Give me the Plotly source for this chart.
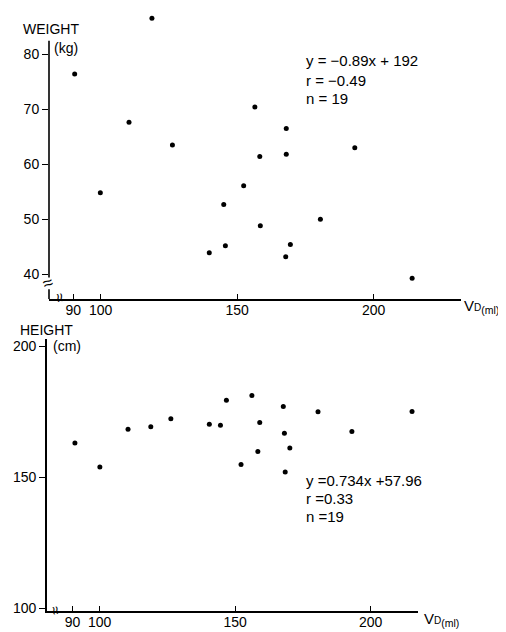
import plotly.graph_objects as go

# ---- data ----
vd_w = [118.8, 90.5, 110.4, 99.9, 126.3, 156.5, 158.3, 152.4, 145.1, 145.7,
        139.8, 158.5, 168.0, 168.0, 193.1, 180.5, 169.5, 167.8, 214.1]
weight = [86.5, 76.4, 67.6, 54.8, 63.5, 70.4, 61.4, 56.1, 52.7, 45.2,
          43.9, 48.8, 66.5, 61.8, 63.0, 50.0, 45.4, 43.2, 39.3]

vd_h = [90.9, 100.1, 110.5, 118.9, 126.3, 140.5, 144.6, 146.8, 156.2, 159.1,
        158.4, 152.2, 167.8, 180.6, 215.3, 168.2, 193.1, 170.2, 168.5]
height = [163.0, 153.9, 168.3, 169.2, 172.3, 170.2, 169.8, 179.4, 181.2, 170.9,
          159.8, 154.8, 177.0, 175.0, 175.1, 166.8, 167.4, 161.1, 152.0]

x_ticks = [90, 100, 150, 200]
w_ticks = [40, 50, 60, 70, 80]
h_ticks = [100, 150, 200]

W, H = 506, 632
FONT = "Liberation Sans, Arial, sans-serif"


def fx(p):
    return p / W


def fy(p):
    return 1 - p / H


fig = go.Figure()
fig.add_trace(go.Scatter(x=vd_w, y=weight, mode="markers",
                         marker=dict(color="black", size=5),
                         cliponaxis=False, xaxis="x", yaxis="y", showlegend=False))
fig.add_trace(go.Scatter(x=vd_h, y=height, mode="markers",
                         marker=dict(color="black", size=5),
                         cliponaxis=False, xaxis="x2", yaxis="y2", showlegend=False))

ax = dict(showline=True, linecolor="black", linewidth=1.6, showgrid=False,
          zeroline=False, tickcolor="black", tickwidth=1.2, ticklen=5,
          tickfont=dict(family=FONT, size=14, color="black"))

# top panel: y range runs higher than the drawn axis line (one point lies above it)
w_axis_lo, w_break_lo, w_break_hi, w_axis_hi = 35.47, 37.3, 39.4, 82.44
fig.update_layout(
    width=W, height=H, margin=dict(l=0, r=0, t=0, b=0),
    paper_bgcolor="white", plot_bgcolor="white",
    xaxis=dict(ax, domain=[fx(41), fx(453)], range=[81.1, 232.0], anchor="y",
               tickvals=x_ticks, ticks="inside", ticklabelstandoff=-3),
    yaxis=dict(ax, domain=[fy(293), fy(1.1)], range=[w_axis_lo, 88.0], anchor="x",
               tickvals=w_ticks, ticks="outside", showline=False, ticklen=6),
    xaxis2=dict(ax, domain=[fx(39), fx(410)], range=[80.6, 217.5], anchor="y2",
                tickvals=x_ticks, ticks="inside", ticklabelstandoff=-3),
    yaxis2=dict(ax, domain=[fy(608), fy(333)], range=[98.8, 202.8], anchor="x2",
                tickvals=h_ticks, ticks="outside", ticklen=6),
)

# visible left axis line of top panel, broken near the bottom
for y0, y1 in [(w_break_hi, w_axis_hi), (w_axis_lo, w_break_lo)]:
    fig.add_shape(type="line", xref="x domain", yref="y", x0=0, x1=0,
                  y0=y0, y1=y1, line=dict(color="black", width=1.6))


def note(text, x, y, xanchor="left", size=14, **kw):
    fig.add_annotation(text=text, x=fx(x), y=fy(y), xref="paper", yref="paper",
                       xanchor=xanchor, yanchor="middle", showarrow=False,
                       font=dict(family=FONT, size=size, color="black"), **kw)

# top panel texts
note("WEIGHT", 13, 20)
note("(kg)", 44, 39)
note("y = −0.89x + 192", 296, 52, size=15)
note("r = −0.49", 296, 72, size=15)
note("n = 19", 296, 90, size=15)
note("V<span style='font-size:10px'>D</span><sub>(ml)</sub>", 454, 300, size=15)

# bottom panel texts
note("HEIGHT", 10, 324)
note("(cm)", 43, 340)
note("y =0.734x +57.96", 296, 476, size=15)
note("r =0.33", 296, 494, size=15)
note("n =19", 296, 512, size=15)
note("V<span style='font-size:10px'>D</span><sub>(ml)</sub>", 414, 616, size=15)

# axis break marks
note("≈", 40, 277, xanchor="center", size=18, textangle=-20)
note("≈", 52, 291, xanchor="center", size=16, textangle=80)
note("≈", 48, 607, xanchor="center", size=15, textangle=80)

fig.write_html("out.html")
